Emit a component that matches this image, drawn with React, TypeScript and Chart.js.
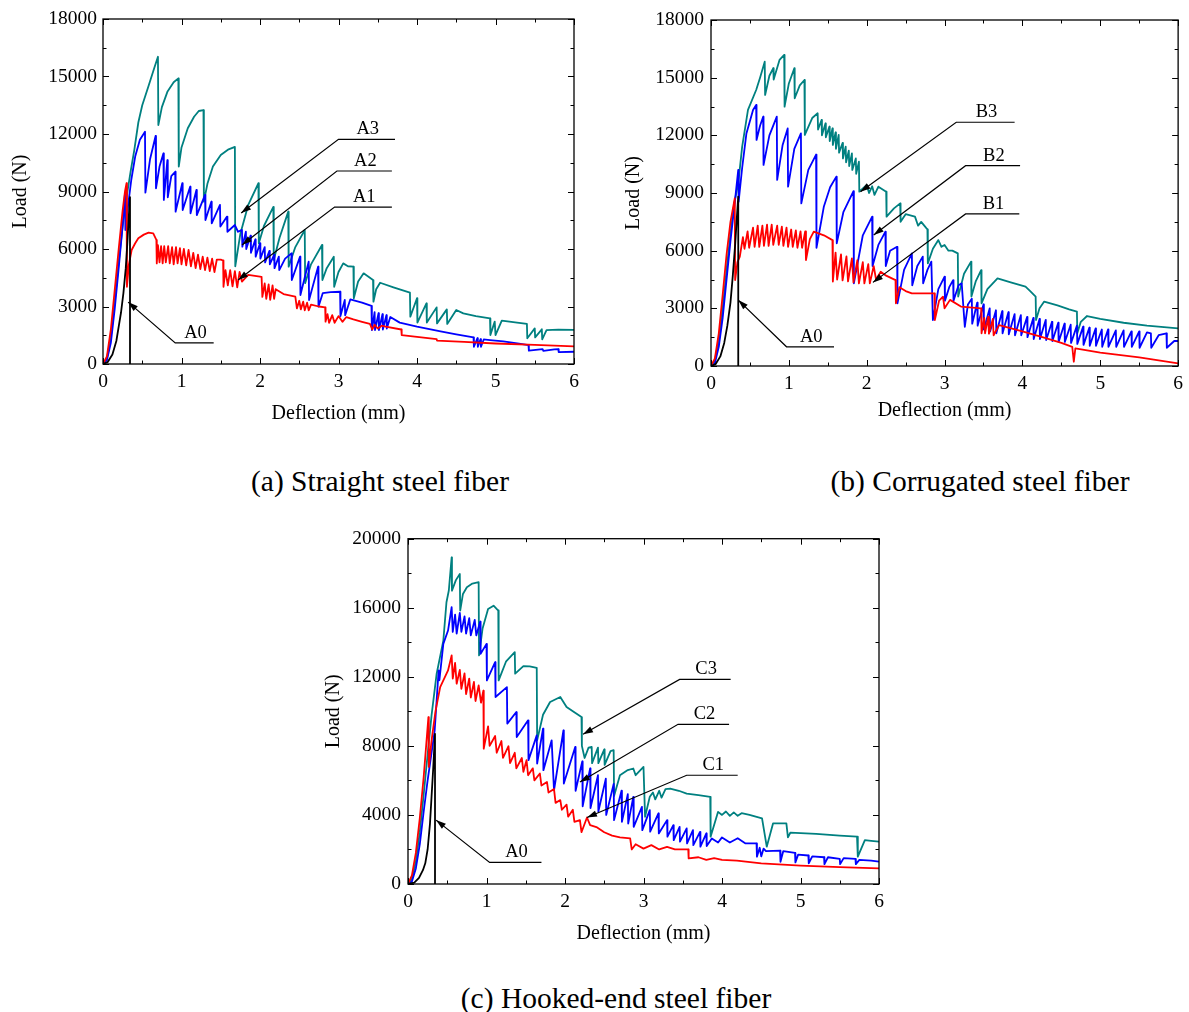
import React, { useEffect, useRef } from 'react';
import { Chart, registerables } from 'chart.js';

Chart.register(...registerables);

type P = [number, number];

// ---------- tick labels ----------
const X_TICKS = [0, 1, 2, 3, 4, 5, 6];
const Y_TICKS_AB = [0, 3000, 6000, 9000, 12000, 15000, 18000];
const Y_TICKS_C = [0, 4000, 8000, 12000, 16000, 20000];

// ---------- (a) Straight steel fiber ----------
const A0_a: P[] = [[0,0],[0.06,100],[0.12,500],[0.17,1200],[0.2,1950],[0.23,2700],[0.26,3700],[0.29,5000],[0.31,6300],[0.33,7800],[0.344,8700],[0.344,0]];
const A1: P[] = [[0,0],[0.05,400],[0.1,1800],[0.15,3900],[0.2,6000],[0.25,8000],[0.28,9000],[0.3,9430],[0.305,4030],[0.33,5200],[0.365,5950],[0.41,6300],[0.45,6560],[0.52,6750],[0.58,6850],[0.64,6820],[0.68,6470],[0.685,5250],[0.7,6200],[0.72,5300],[0.74,6150],[0.76,5250],[0.78,6150],[0.8,5300],[0.83,6150],[0.85,5250],[0.88,6100],[0.9,5200],[0.93,6100],[0.95,5250],[0.98,6050],[1.0,5200],[1.03,6000],[1.06,5150],[1.09,5950],[1.12,5100],[1.15,5800],[1.18,5000],[1.21,5700],[1.24,4950],[1.27,5600],[1.3,4900],[1.33,5550],[1.36,4850],[1.39,5500],[1.42,4800],[1.45,5450],[1.5,5450],[1.53,5400],[1.535,4030],[1.56,4900],[1.59,4100],[1.62,4900],[1.65,4050],[1.68,4850],[1.71,4000],[1.74,4800],[1.77,4300],[1.85,4650],[2.02,4550],[2.03,3500],[2.06,4200],[2.08,3400],[2.11,4150],[2.13,3350],[2.16,4100],[2.18,3400],[2.2,3900],[2.3,3650],[2.45,3510],[2.47,2900],[2.5,3300],[2.52,2850],[2.55,3250],[2.57,2800],[2.6,3200],[2.62,2800],[2.65,3100],[2.75,3000],[2.83,2950],[2.835,2210],[2.86,2600],[2.88,2150],[2.92,2550],[2.95,2150],[3.0,2500],[3.05,2200],[3.1,2450],[3.19,2330],[3.3,2200],[3.4,2090],[3.43,1800],[3.46,2050],[3.5,1850],[3.55,2000],[3.6,1950],[3.8,1800],[3.805,1510],[4.0,1420],[4.25,1300],[4.255,1220],[4.6,1150],[5.0,1070],[5.5,1000],[6.0,920]];
const A2: P[] = [[0,0],[0.05,200],[0.1,1100],[0.15,2900],[0.2,5000],[0.25,7200],[0.28,8900],[0.285,6990],[0.32,8300],[0.36,9600],[0.41,10820],[0.47,11700],[0.535,12120],[0.54,8940],[0.6,10700],[0.67,11900],[0.675,9170],[0.72,10300],[0.77,10990],[0.775,8560],[0.82,10640],[0.825,8700],[0.87,9800],[0.92,10030],[0.925,7950],[1.01,9430],[1.015,8030],[1.11,9250],[1.115,7860],[1.19,9080],[1.195,7770],[1.3,8820],[1.305,7510],[1.38,8470],[1.385,7340],[1.49,8300],[1.495,7170],[1.58,7690],[1.585,6900],[1.68,7250],[1.72,6900],[1.77,7000],[1.775,6120],[1.82,6900],[1.825,6000],[1.88,6700],[1.885,5800],[1.94,6500],[1.945,5600],[2.0,6300],[2.005,5500],[2.06,6100],[2.065,5300],[2.12,5900],[2.125,5200],[2.18,5700],[2.185,5000],[2.24,5600],[2.245,4900],[2.32,5500],[2.4,5770],[2.405,4380],[2.51,5600],[2.515,3600],[2.62,5340],[2.625,3340],[2.74,5080],[2.745,2990],[2.8,3700],[2.9,3750],[3.02,3770],[3.025,2500],[3.08,3340],[3.085,2550],[3.15,3370],[3.3,3200],[3.42,3030],[3.425,1770],[3.46,2700],[3.465,1770],[3.51,2650],[3.515,1770],[3.56,2600],[3.565,1800],[3.61,2550],[3.615,1850],[3.66,2450],[3.78,2160],[4.0,1950],[4.3,1700],[4.5,1550],[4.72,1390],[4.725,900],[4.77,1350],[4.775,900],[4.81,1300],[4.815,900],[4.85,1280],[4.93,1250],[5.1,1180],[5.3,1060],[5.42,990],[5.425,700],[5.6,780],[5.61,680],[5.75,760],[5.8,770],[5.805,620],[6.0,640]];
const A3: P[] = [[0,0],[0.05,300],[0.1,1400],[0.15,3300],[0.2,5300],[0.25,7200],[0.3,8700],[0.35,10000],[0.4,11200],[0.45,12600],[0.5,13500],[0.58,14500],[0.65,15400],[0.7,16030],[0.705,12470],[0.75,13400],[0.82,14200],[0.9,14700],[0.96,14900],[0.965,10300],[1.0,11300],[1.08,12300],[1.16,12900],[1.22,13200],[1.28,13250],[1.285,8470],[1.33,9400],[1.4,10300],[1.5,10900],[1.6,11200],[1.68,11330],[1.685,5100],[1.75,6800],[1.85,8300],[1.98,9430],[1.985,6300],[2.05,7200],[2.17,8200],[2.175,5430],[2.25,6600],[2.36,7950],[2.365,5080],[2.45,6100],[2.57,6990],[2.575,4220],[2.65,5200],[2.79,6210],[2.795,4380],[2.85,5000],[2.94,5600],[2.945,4030],[3.0,4800],[3.06,5250],[3.12,5100],[3.19,5080],[3.195,3430],[3.25,4300],[3.32,4730],[3.44,4380],[3.445,3250],[3.48,3900],[3.53,4240],[3.7,4000],[3.91,3720],[3.915,2470],[4.0,3430],[4.005,2160],[4.12,3160],[4.125,2160],[4.25,2955],[4.255,2120],[4.38,2850],[4.385,2090],[4.5,2820],[4.59,2640],[4.75,2500],[4.93,2380],[4.935,1510],[4.99,2210],[5.0,1510],[5.08,2260],[5.25,2170],[5.4,2090],[5.405,1340],[5.5,1860],[5.505,1390],[5.59,1810],[5.595,1290],[5.65,1770],[5.8,1790],[6.0,1780]];

// ---------- (b) Corrugated steel fiber ----------
const A0_b: P[] = [[0,0],[0.06,100],[0.12,500],[0.17,1200],[0.21,2100],[0.25,3300],[0.28,4700],[0.31,6300],[0.33,7600],[0.35,8810],[0.35,0]];
const B1: P[] = [[0,0],[0.05,400],[0.1,1700],[0.15,3700],[0.2,5800],[0.25,7500],[0.305,8720],[0.31,4470],[0.34,5400],[0.37,5690],[0.41,6700],[0.43,6100],[0.47,7000],[0.49,6150],[0.54,7200],[0.56,6200],[0.6,7300],[0.62,6200],[0.66,7300],[0.68,6250],[0.72,7350],[0.74,6250],[0.78,7350],[0.8,6300],[0.85,7300],[0.87,6300],[0.91,7250],[0.93,6250],[0.97,7200],[0.99,6200],[1.03,7100],[1.05,6200],[1.09,7050],[1.11,6150],[1.15,7000],[1.17,6150],[1.21,7000],[1.22,5510],[1.27,6600],[1.32,6990],[1.45,6800],[1.56,6550],[1.565,4390],[1.6,5900],[1.62,4500],[1.67,5800],[1.69,4450],[1.74,5700],[1.76,4400],[1.81,5600],[1.83,4350],[1.88,5500],[1.9,4300],[1.95,5400],[1.97,4300],[2.02,5300],[2.04,4300],[2.09,5200],[2.12,4500],[2.18,4900],[2.25,4700],[2.37,4470],[2.375,3260],[2.42,4100],[2.5,3900],[2.58,3780],[2.87,3780],[2.875,2390],[2.93,3400],[2.98,3610],[3.0,3000],[3.07,3440],[3.21,3090],[3.47,3000],[3.475,1700],[3.51,2500],[3.52,1700],[3.56,2550],[3.57,1680],[3.62,2450],[3.63,1600],[3.7,2130],[4.0,1800],[4.3,1450],[4.5,1200],[4.64,1000],[4.66,220],[4.68,920],[5.0,700],[5.5,450],[6.0,140]];
const B2: P[] = [[0,0],[0.05,150],[0.1,1000],[0.15,2500],[0.2,4500],[0.25,6500],[0.3,8300],[0.35,10200],[0.355,8550],[0.4,10300],[0.455,12100],[0.54,13320],[0.58,13580],[0.585,11760],[0.63,12500],[0.67,12970],[0.675,10460],[0.75,12000],[0.845,12970],[0.85,9680],[0.92,11500],[0.985,12360],[0.99,9330],[1.07,11300],[1.155,12100],[1.16,8460],[1.25,10200],[1.35,11000],[1.355,6150],[1.45,8300],[1.53,9300],[1.61,9850],[1.615,6380],[1.7,8000],[1.83,9100],[1.835,4300],[1.95,6800],[2.07,7770],[2.075,5200],[2.15,6300],[2.24,6990],[2.245,5200],[2.3,6000],[2.39,6200],[2.395,3260],[2.48,5000],[2.58,5860],[2.585,4200],[2.65,5200],[2.72,5690],[2.725,4300],[2.78,5000],[2.83,5430],[2.85,2390],[2.92,4000],[3.0,4650],[3.005,3400],[3.06,4100],[3.11,4470],[3.115,3400],[3.18,4200],[3.22,4300],[3.26,2040],[3.3,3200],[3.35,3500],[3.355,2200],[3.42,3300],[3.425,2100],[3.5,3200],[3.505,1900],[3.58,3000],[3.585,1800],[3.66,2900],[3.665,1700],[3.74,2850],[3.745,1700],[3.82,2800],[3.825,1650],[3.9,2700],[3.905,1600],[3.98,2650],[3.985,1600],[4.06,2550],[4.065,1500],[4.14,2500],[4.145,1400],[4.22,2450],[4.225,1400],[4.3,2400],[4.305,1350],[4.38,2300],[4.385,1300],[4.46,2250],[4.465,1250],[4.54,2200],[4.545,1250],[4.62,2150],[4.625,1200],[4.7,2100],[4.705,1150],[4.78,2050],[4.785,1100],[4.86,2000],[4.865,1050],[4.94,1950],[4.945,1050],[5.02,1900],[5.025,1000],[5.1,1900],[5.105,1000],[5.2,1850],[5.205,1000],[5.3,1850],[5.305,1000],[5.4,1800],[5.405,1000],[5.5,1800],[5.505,950],[5.6,1750],[5.65,1700],[5.655,950],[5.75,1600],[5.85,1700],[5.855,950],[5.95,1300],[6.0,1300]];
const B3: P[] = [[0,0],[0.05,300],[0.1,1300],[0.15,3000],[0.2,5000],[0.25,6900],[0.3,8500],[0.35,9500],[0.4,11400],[0.475,13320],[0.58,14360],[0.63,15000],[0.69,15830],[0.695,14100],[0.75,15100],[0.8,15500],[0.805,14900],[0.88,15920],[0.94,16180],[0.945,13490],[1.0,14700],[1.07,15490],[1.075,13930],[1.14,14600],[1.2,14880],[1.205,12020],[1.3,12900],[1.37,13150],[1.375,12300],[1.42,12800],[1.425,12000],[1.47,12620],[1.475,11900],[1.52,12450],[1.525,11700],[1.56,12360],[1.565,11500],[1.6,12150],[1.605,11300],[1.64,12020],[1.645,11100],[1.69,11600],[1.695,10800],[1.73,11410],[1.735,10600],[1.77,11200],[1.775,10400],[1.81,11060],[1.815,10200],[1.86,10800],[1.865,10000],[1.9,10630],[1.905,9070],[2.0,9420],[2.03,9000],[2.07,9350],[2.1,8900],[2.15,9330],[2.2,9200],[2.25,9070],[2.255,7770],[2.35,8200],[2.43,8460],[2.435,7500],[2.5,7900],[2.62,7770],[2.66,7300],[2.7,7500],[2.75,7250],[2.78,7100],[2.785,5340],[2.85,6100],[2.92,6550],[2.96,6200],[3.0,6300],[3.05,6000],[3.1,6000],[3.17,5860],[3.175,3610],[3.25,4800],[3.34,5430],[3.345,3610],[3.4,4400],[3.47,4990],[3.475,3260],[3.55,4000],[3.68,4560],[3.85,4350],[4.04,4130],[4.1,3900],[4.17,3610],[4.175,2390],[4.22,3000],[4.28,3350],[4.45,3150],[4.6,2950],[4.7,2830],[4.705,1700],[4.75,2300],[4.83,2600],[5.0,2450],[5.3,2250],[5.6,2100],[6.0,1960]];

// ---------- (c) Hooked-end steel fiber ----------
const A0_c: P[] = [[0,0],[0.08,80],[0.14,350],[0.19,800],[0.22,1200],[0.25,2000],[0.28,3500],[0.3,5050],[0.32,6600],[0.344,8700],[0.344,0]];
const C1: P[] = [[0,0],[0.05,500],[0.1,1800],[0.15,3800],[0.2,6200],[0.26,9670],[0.265,6780],[0.3,8300],[0.35,10000],[0.41,11400],[0.51,12370],[0.556,13240],[0.57,11900],[0.6,12800],[0.62,11600],[0.66,12400],[0.68,11300],[0.72,12200],[0.74,11000],[0.78,11900],[0.8,10800],[0.84,11700],[0.86,10600],[0.9,11500],[0.93,10500],[0.96,11200],[0.965,7840],[1.02,9130],[1.04,8000],[1.11,8570],[1.13,7600],[1.19,8280],[1.21,7300],[1.28,7980],[1.3,7000],[1.36,7600],[1.38,6700],[1.45,7300],[1.47,6500],[1.51,7170],[1.53,6300],[1.59,6700],[1.61,6000],[1.68,6400],[1.7,5700],[1.77,5910],[1.79,5300],[1.86,5500],[1.88,4700],[1.94,4860],[1.96,4300],[2.02,4600],[2.04,3900],[2.1,4300],[2.12,3600],[2.19,3700],[2.21,3000],[2.28,3850],[2.32,3410],[2.4,3300],[2.5,3000],[2.6,2800],[2.7,2700],[2.83,2640],[2.85,2000],[2.9,2300],[3.0,2050],[3.1,2250],[3.2,2000],[3.3,2150],[3.4,2000],[3.57,2000],[3.575,1480],[3.7,1550],[3.8,1400],[3.9,1500],[4.0,1400],[4.19,1350],[4.5,1200],[5.0,1070],[5.5,980],[6.0,900]];
const C2: P[] = [[0,0],[0.05,150],[0.1,900],[0.15,2300],[0.2,4200],[0.25,6000],[0.3,7600],[0.34,8900],[0.39,12370],[0.4,11800],[0.45,13910],[0.51,14680],[0.556,16030],[0.57,14600],[0.6,15600],[0.62,14500],[0.66,15700],[0.68,14600],[0.72,15500],[0.74,14500],[0.78,15400],[0.8,14400],[0.85,15300],[0.87,14400],[0.92,15200],[0.925,13330],[1.0,13910],[1.005,11790],[1.11,12850],[1.115,10830],[1.26,11400],[1.265,9290],[1.38,9960],[1.385,8510],[1.53,9480],[1.535,7170],[1.64,8610],[1.645,6980],[1.72,9000],[1.725,6590],[1.83,8320],[1.86,5430],[1.98,8900],[1.985,5820],[2.13,7940],[2.135,5400],[2.22,7100],[2.225,4500],[2.32,6700],[2.325,4400],[2.42,6300],[2.425,4200],[2.52,6100],[2.525,4000],[2.62,5800],[2.625,3700],[2.72,5400],[2.725,3600],[2.8,5200],[2.805,3500],[2.87,5050],[2.875,3310],[2.98,4470],[2.985,3120],[3.08,4280],[3.085,3030],[3.19,4090],[3.195,2930],[3.3,3700],[3.305,2740],[3.38,3410],[3.385,2540],[3.46,3310],[3.465,2450],[3.55,3220],[3.555,2350],[3.63,3120],[3.635,2250],[3.72,3020],[3.725,2160],[3.8,2930],[3.805,2200],[3.87,2640],[3.95,2400],[4.0,2700],[4.1,2400],[4.2,2650],[4.3,2350],[4.44,2350],[4.445,1580],[4.48,2100],[4.5,1600],[4.53,2050],[4.56,1900],[4.74,1930],[4.745,1290],[4.78,1900],[4.93,1800],[4.935,1250],[4.97,1700],[5.1,1650],[5.105,1200],[5.15,1600],[5.3,1550],[5.305,1150],[5.35,1550],[5.5,1450],[5.505,1150],[5.55,1500],[5.7,1450],[5.705,1150],[5.75,1400],[5.9,1350],[6.0,1290]];
const C3: P[] = [[0,0],[0.05,300],[0.1,1300],[0.15,3000],[0.2,5200],[0.25,7500],[0.3,9770],[0.365,12180],[0.45,14100],[0.49,16320],[0.52,17000],[0.556,18920],[0.56,16990],[0.61,17600],[0.66,17960],[0.665,15840],[0.7,16800],[0.75,17190],[0.82,17400],[0.9,17480],[0.905,13240],[0.95,14800],[1.02,15930],[1.09,16120],[1.15,15840],[1.155,11790],[1.25,12900],[1.36,13430],[1.365,12180],[1.47,12620],[1.55,12600],[1.64,12520],[1.645,8320],[1.72,9800],[1.81,10540],[1.94,10830],[2.02,10250],[2.1,10000],[2.21,9670],[2.215,8000],[2.25,7300],[2.3,7900],[2.34,7940],[2.345,7000],[2.42,7900],[2.425,7000],[2.5,7800],[2.505,6900],[2.58,7700],[2.62,7750],[2.625,5100],[2.7,6300],[2.8,6600],[2.87,6690],[2.9,6300],[3.0,6780],[3.02,3890],[3.08,5050],[3.12,5300],[3.15,4900],[3.2,5400],[3.23,5000],[3.28,5500],[3.34,5530],[3.45,5400],[3.55,5240],[3.7,5150],[3.85,5050],[3.855,2740],[3.95,4180],[4.0,4000],[4.05,4200],[4.1,3950],[4.15,4150],[4.2,3950],[4.25,4100],[4.35,4000],[4.51,3800],[4.57,2160],[4.65,3510],[4.82,3510],[4.84,2700],[4.87,2970],[5.2,2900],[5.5,2800],[5.72,2740],[5.73,1580],[5.82,2540],[5.9,2500],[6.0,2450]];

// ---------- colours ----------
const BLACK = '#000000';
const RED = '#ff0000';
const BLUE = '#0000ff';
const TEAL = '#008080';

type Callout = { text: string; tip: P; knee: P; end: number };

const FONT = '"Liberation Serif", "Times New Roman", serif';

const framePlugin = {
  id: 'frameTicks',
  afterDatasetsDraw(chart: any, _a: any, opts: any) {
    const { ctx, chartArea: a, scales } = chart;
    const xs = scales.x, ys = scales.y;
    ctx.save();
    ctx.strokeStyle = '#000';
    ctx.lineWidth = 1.3;
    ctx.strokeRect(a.left, a.top, a.right - a.left, a.bottom - a.top);
    ctx.lineWidth = 1;
    const seg = (x1: number, y1: number, x2: number, y2: number) => {
      ctx.beginPath(); ctx.moveTo(x1, y1); ctx.lineTo(x2, y2); ctx.stroke();
    };
    const nx = Math.round((xs.max - xs.min) / opts.xMinor);
    for (let i = 0; i <= nx; i++) {
      const v = xs.min + i * opts.xMinor;
      const px = Math.round(xs.getPixelForValue(v)) + 0.5;
      const len = i % 2 === 0 ? 6 : 3.5;
      seg(px, a.bottom, px, a.bottom - len);
      seg(px, a.top, px, a.top + len);
    }
    const ny = Math.round((ys.max - ys.min) / opts.yMinor);
    for (let i = 0; i <= ny; i++) {
      const v = ys.min + i * opts.yMinor;
      const py = Math.round(ys.getPixelForValue(v)) + 0.5;
      const len = i % 2 === 0 ? 6 : 3.5;
      seg(a.left, py, a.left + len, py);
      seg(a.right, py, a.right - len, py);
    }
    ctx.restore();
  },
};

const calloutPlugin = {
  id: 'callouts',
  afterDatasetsDraw(chart: any, _a: any, opts: any) {
    const { ctx, scales } = chart;
    const xs = scales.x, ys = scales.y;
    ctx.save();
    ctx.strokeStyle = '#000';
    ctx.fillStyle = '#000';
    ctx.lineWidth = 1.2;
    (opts.items as Callout[]).forEach((c) => {
      const tx = xs.getPixelForValue(c.tip[0]);
      const ty = ys.getPixelForValue(c.tip[1]);
      const kx = xs.getPixelForValue(c.knee[0]);
      const ky = ys.getPixelForValue(c.knee[1]);
      const ex = xs.getPixelForValue(c.end);
      ctx.beginPath();
      ctx.moveTo(ex, ky);
      ctx.lineTo(kx, ky);
      ctx.lineTo(tx, ty);
      ctx.stroke();
      const ang = Math.atan2(ty - ky, tx - kx);
      const L = 10, W = 3.2;
      const bx = tx - L * Math.cos(ang), by = ty - L * Math.sin(ang);
      ctx.beginPath();
      ctx.moveTo(tx, ty);
      ctx.lineTo(bx + W * Math.sin(ang), by - W * Math.cos(ang));
      ctx.lineTo(bx - W * Math.sin(ang), by + W * Math.cos(ang));
      ctx.closePath();
      ctx.fill();
      ctx.font = `18.5px ${FONT}`;
      ctx.textAlign = 'center';
      ctx.textBaseline = 'alphabetic';
      ctx.fillText(c.text, (kx + ex) / 2 + 1, ky - 5);
    });
    ctx.restore();
  },
};

type PanelCfg = {
  left: number; top: number; w: number; h: number;
  padTop: number; padRight: number;
  yW: number; xH: number;
  yTitlePad: number; xTitlePad: number;
  yTickPad: number; xTickPad: number;
  yMax: number; yTicks: number[]; yMinor: number;
  series: { data: P[]; color: string }[];
  callouts: Callout[];
};

function Panel({ cfg }: { cfg: PanelCfg }) {
  const ref = useRef<HTMLCanvasElement>(null);
  useEffect(() => {
    const tickFont = { family: FONT, size: 19.5 };
    const titleFont = { family: FONT, size: 20 };
    const chart = new Chart(ref.current as HTMLCanvasElement, {
      type: 'scatter',
      data: {
        datasets: cfg.series.map((s) => ({
          data: s.data.map(([x, y]) => ({ x, y })),
          borderColor: s.color,
          backgroundColor: s.color,
          showLine: true,
          pointRadius: 0,
          borderWidth: 1.8,
          borderJoinStyle: 'round',
          tension: 0,
        })),
      },
      options: {
        responsive: false,
        animation: false,
        devicePixelRatio: 1,
        layout: { padding: { top: cfg.padTop, right: cfg.padRight, left: 0, bottom: 0 } },
        plugins: {
          legend: { display: false },
          tooltip: { enabled: false },
          frameTicks: { xMinor: 0.5, yMinor: cfg.yMinor },
          callouts: { items: cfg.callouts },
        } as any,
        scales: {
          x: {
            type: 'linear',
            min: 0,
            max: 6,
            afterFit: (s: any) => { s.height = cfg.xH; },
            afterBuildTicks: (s: any) => { s.ticks = X_TICKS.map((v) => ({ value: v })); },
            ticks: { color: '#000', font: tickFont, padding: cfg.xTickPad, maxRotation: 0, callback: (v: any) => String(v) },
            grid: { display: false, drawTicks: false },
            border: { display: false },
            title: { display: true, text: 'Deflection (mm)', color: '#000', font: titleFont, padding: { top: 0, bottom: cfg.xTitlePad } },
          },
          y: {
            type: 'linear',
            min: 0,
            max: cfg.yMax,
            afterFit: (s: any) => { s.width = cfg.yW; },
            afterBuildTicks: (s: any) => { s.ticks = cfg.yTicks.map((v) => ({ value: v })); },
            ticks: { color: '#000', font: tickFont, padding: cfg.yTickPad, callback: (v: any) => String(v) },
            grid: { display: false, drawTicks: false },
            border: { display: false },
            title: { display: true, text: 'Load (N)', color: '#000', font: titleFont, padding: { top: cfg.yTitlePad, bottom: 0 } },
          },
        },
      } as any,
      plugins: [framePlugin, calloutPlugin],
    });
    return () => chart.destroy();
  }, []);
  return (
    <canvas
      ref={ref}
      width={cfg.w}
      height={cfg.h}
      style={{ position: 'absolute', left: cfg.left, top: cfg.top, width: cfg.w, height: cfg.h }}
    />
  );
}

const panelA: PanelCfg = {
  left: 0, top: 0, w: 590, h: 430, padTop: 19, padRight: 16, yW: 103, xH: 66,
  yTitlePad: 9, xTitlePad: 4, yTickPad: 6, xTickPad: 6,
  yMax: 18000, yTicks: Y_TICKS_AB, yMinor: 1500,
  series: [
    { data: A0_a, color: BLACK },
    { data: A1, color: RED },
    { data: A2, color: BLUE },
    { data: A3, color: TEAL },
  ],
  callouts: [
    { text: 'A0', tip: [0.32, 3230], knee: [0.92, 1100], end: 1.41 },
    { text: 'A3', tip: [1.76, 7880], knee: [3.0, 11720], end: 3.72 },
    { text: 'A2', tip: [1.77, 6210], knee: [2.98, 10070], end: 3.68 },
    { text: 'A1', tip: [1.72, 4380], knee: [2.95, 8190], end: 3.68 },
  ],
};

const panelB: PanelCfg = {
  left: 600, top: 0, w: 589, h: 430, padTop: 20, padRight: 7, yW: 111, xH: 64,
  yTitlePad: 22, xTitlePad: 7, yTickPad: 7, xTickPad: 6,
  yMax: 18000, yTicks: Y_TICKS_AB, yMinor: 1500,
  series: [
    { data: A0_b, color: BLACK },
    { data: B1, color: RED },
    { data: B2, color: BLUE },
    { data: B3, color: TEAL },
  ],
  callouts: [
    { text: 'A0', tip: [0.35, 3430], knee: [0.97, 1000], end: 1.58 },
    { text: 'B3', tip: [1.92, 9070], knee: [3.15, 12680], end: 3.9 },
    { text: 'B2', tip: [2.09, 6810], knee: [3.27, 10420], end: 3.97 },
    { text: 'B1', tip: [2.08, 4350], knee: [3.27, 7910], end: 3.96 },
  ],
};

const panelC: PanelCfg = {
  left: 300, top: 520, w: 600, h: 440, padTop: 18, padRight: 21, yW: 108, xH: 76,
  yTitlePad: 22, xTitlePad: 14, yTickPad: 7, xTickPad: 6,
  yMax: 20000, yTicks: Y_TICKS_C, yMinor: 2000,
  series: [
    { data: A0_c, color: BLACK },
    { data: C1, color: RED },
    { data: C2, color: BLUE },
    { data: C3, color: TEAL },
  ],
  callouts: [
    { text: 'A0', tip: [0.357, 3700], knee: [1.04, 1250], end: 1.7 },
    { text: 'C3', tip: [2.23, 8670], knee: [3.46, 11850], end: 4.11 },
    { text: 'C2', tip: [2.19, 5910], knee: [3.44, 9250], end: 4.09 },
    { text: 'C1', tip: [2.28, 3850], knee: [3.55, 6300], end: 4.2 },
  ],
};

const captionStyle = (cx: number, cy: number): React.CSSProperties => ({
  position: 'absolute',
  left: cx - 250,
  width: 500,
  top: cy - 17,
  lineHeight: '34px',
  textAlign: 'center',
  fontFamily: FONT,
  fontSize: 29.5,
  color: '#000',
  whiteSpace: 'nowrap',
});

export default function App() {
  return (
    <div style={{ position: 'absolute', left: 0, top: 0, width: 1189, height: 1012, background: '#fff', overflow: 'hidden' }}>
      <Panel cfg={panelA} />
      <Panel cfg={panelB} />
      <Panel cfg={panelC} />
      <div style={captionStyle(380, 481)}>(a) Straight steel fiber</div>
      <div style={captionStyle(980, 481)}>(b) Corrugated steel fiber</div>
      <div style={captionStyle(616, 998)}>(c) Hooked-end steel fiber</div>
    </div>
  );
}
